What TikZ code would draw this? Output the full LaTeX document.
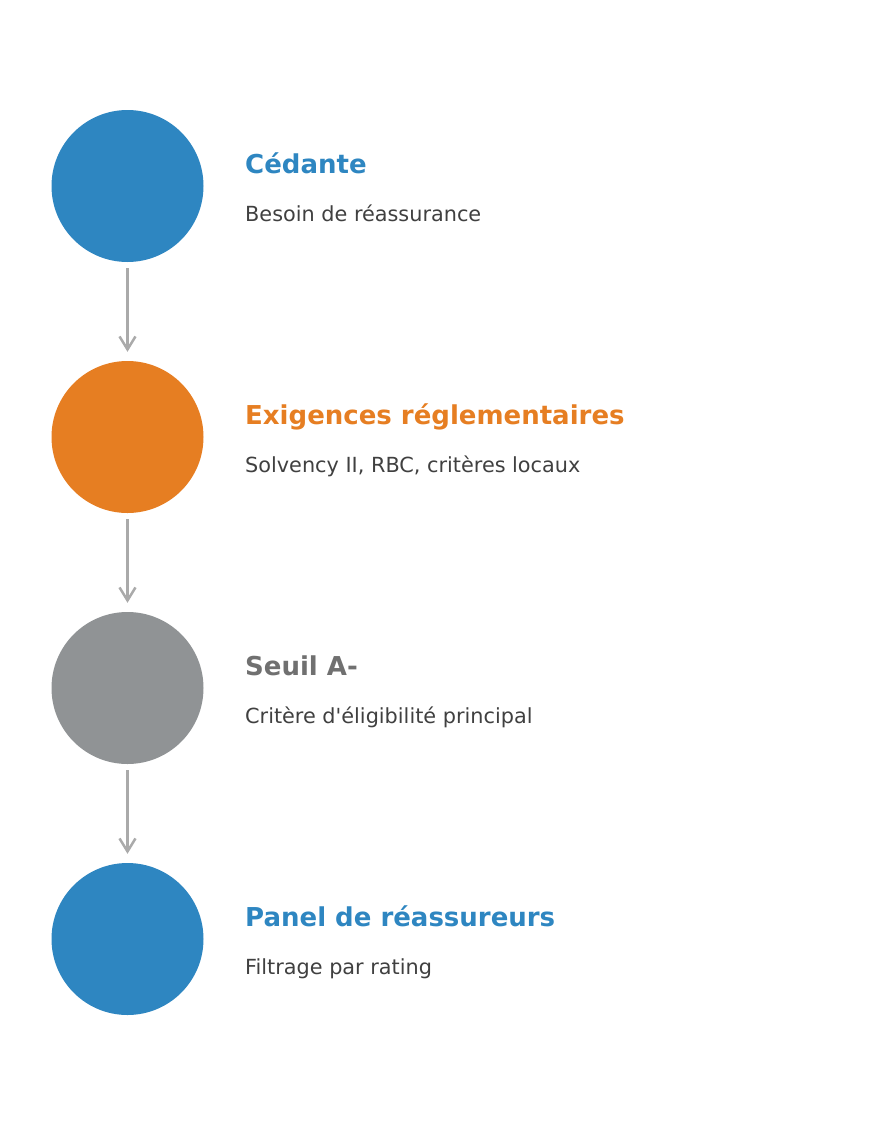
\documentclass[tikz,border=0pt]{standalone}
\usepackage{fontspec}
\setmainfont{DejaVu Sans}
\usetikzlibrary{arrows.meta}
\definecolor{cblue}{HTML}{2E86C1}
\definecolor{corange}{HTML}{E67E22}
\definecolor{cgray}{HTML}{909395}
\definecolor{tgray}{HTML}{707070}
\definecolor{subtxt}{HTML}{404040}
\definecolor{arrowgray}{HTML}{AAAAAA}
\tikzset{
  stage/.style={circle, minimum size=152pt, inner sep=0pt, draw=none},
  ttl/.style={anchor=base west, inner sep=0pt, font=\fontsize{26}{30}\selectfont\bfseries},
  sub/.style={anchor=base west, inner sep=0pt, text=subtxt, font=\fontsize{20.8}{25}\selectfont},
  link/.style={draw=arrowgray, line width=2.5pt, -{Straight Barb[length=13pt,width=16pt,line width=2.5pt]}, shorten <=6pt, shorten >=9pt}
}
\begin{document}
\begin{tikzpicture}[x=1pt,y=-1pt]
\useasboundingbox (0,0) rectangle (875,1125);
\node[stage, fill=cblue] (c1) at (127.5,186) {};
\node[stage, fill=corange] (c2) at (127.5,437) {};
\node[stage, fill=cgray] (c3) at (127.5,688) {};
\node[stage, fill=cblue] (c4) at (127.5,939) {};
\node[ttl, text=cblue] (t1) at (245,173) {Cédante};
\node[sub] (s1) at (245,221) {Besoin de réassurance};
\node[ttl, text=corange] (t2) at (245,424) {Exigences réglementaires};
\node[sub] (s2) at (245,472) {Solvency II, RBC, critères locaux};
\node[ttl, text=tgray] (t3) at (245,675) {Seuil A-};
\node[sub] (s3) at (245,723) {Critère d\textquotesingle éligibilité principal};
\node[ttl, text=cblue] (t4) at (245,926) {Panel de réassureurs};
\node[sub] (s4) at (245,974) {Filtrage par rating};
\draw[link] (c1) -- (c2);
\draw[link] (c2) -- (c3);
\draw[link] (c3) -- (c4);
\end{tikzpicture}
\end{document}
